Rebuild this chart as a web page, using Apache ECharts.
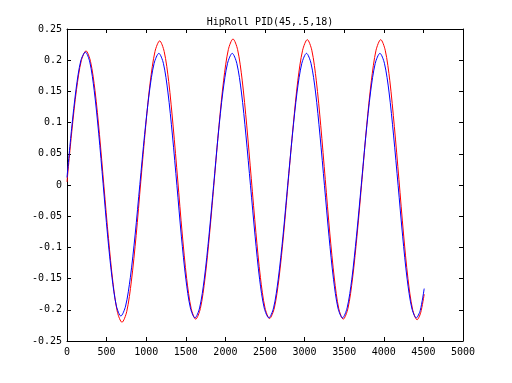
<!DOCTYPE html>
<html>
<head>
<meta charset="utf-8">
<script src="https://cdn.jsdelivr.net/npm/echarts@6/dist/echarts.min.js"></script>
<style>html,body{margin:0;padding:0;background:#fff;}#c{width:512px;height:383px;}</style>
</head>
<body>
<div id="c"></div>
<script>
var titleText = 'HipRoll PID(45,.5,18)';
var xTicks = [0, 500, 1000, 1500, 2000, 2500, 3000, 3500, 4000, 4500, 5000];
var yTicks = [-0.25, -0.2, -0.15, -0.1, -0.05, 0, 0.05, 0.1, 0.15, 0.2, 0.25];

var redX = [0, 60, 120, 180, 240,
  297, 354, 410, 467, 524, 580, 637, 694,
  754, 813, 873, 932, 992, 1051, 1111, 1170,
  1227, 1284, 1341, 1398, 1454, 1511, 1568, 1625,
  1684, 1743, 1802, 1861, 1919, 1978, 2037, 2096,
  2154, 2212, 2269, 2327, 2385, 2442, 2500, 2558,
  2618, 2677, 2737, 2796, 2856, 2915, 2975, 3034,
  3091, 3148, 3204, 3261, 3318, 3375, 3431, 3488,
  3547, 3606, 3665, 3725, 3784, 3843, 3902, 3961,
  4018, 4076, 4133, 4191, 4248, 4305, 4363, 4420,
  4465, 4510];
var redY = [0.005, 0.085, 0.153, 0.199, 0.215,
  0.198, 0.151, 0.081, -0.003, -0.086, -0.156, -0.204, -0.220,
  -0.203, -0.154, -0.081, 0.006, 0.092, 0.165, 0.214, 0.231,
  0.214, 0.166, 0.093, 0.008, -0.077, -0.150, -0.198, -0.215,
  -0.198, -0.149, -0.076, 0.010, 0.095, 0.168, 0.217, 0.234,
  0.217, 0.168, 0.096, 0.010, -0.076, -0.148, -0.197, -0.214,
  -0.197, -0.149, -0.076, 0.010, 0.095, 0.168, 0.216, 0.233,
  0.216, 0.167, 0.095, 0.009, -0.077, -0.149, -0.198, -0.215,
  -0.198, -0.149, -0.077, 0.009, 0.095, 0.167, 0.216, 0.233,
  0.216, 0.167, 0.094, 0.009, -0.077, -0.150, -0.199, -0.216,
  -0.205, -0.175];

var blueX = [0, 58, 116, 174, 232,
  288, 344, 400, 456, 512, 568, 624, 680,
  740, 800, 860, 920, 980, 1040, 1100, 1160,
  1217, 1274, 1331, 1388, 1444, 1501, 1558, 1615,
  1674, 1733, 1792, 1851, 1909, 1968, 2027, 2086,
  2144, 2202, 2259, 2317, 2375, 2432, 2490, 2548,
  2608, 2667, 2727, 2786, 2846, 2905, 2965, 3024,
  3081, 3138, 3194, 3251, 3308, 3365, 3421, 3478,
  3537, 3596, 3655, 3715, 3774, 3833, 3892, 3951,
  4008, 4066, 4123, 4181, 4238, 4295, 4353, 4410,
  4460, 4510];
var blueY = [0.012, 0.090, 0.155, 0.199, 0.213,
  0.197, 0.151, 0.083, 0.002, -0.080, -0.148, -0.194, -0.210,
  -0.194, -0.148, -0.080, 0.001, 0.081, 0.149, 0.195, 0.211,
  0.195, 0.149, 0.080, -0.001, -0.082, -0.151, -0.197, -0.213,
  -0.197, -0.151, -0.082, -0.001, 0.080, 0.149, 0.195, 0.211,
  0.195, 0.149, 0.080, -0.001, -0.082, -0.151, -0.197, -0.213,
  -0.197, -0.151, -0.082, -0.001, 0.080, 0.149, 0.195, 0.211,
  0.195, 0.149, 0.080, -0.001, -0.082, -0.151, -0.197, -0.213,
  -0.197, -0.151, -0.082, -0.001, 0.080, 0.149, 0.195, 0.211,
  0.195, 0.149, 0.080, -0.001, -0.082, -0.151, -0.197, -0.213,
  -0.201, -0.166];

function pairs(xs, ys) { return xs.map(function (x, i) { return [x, ys[i]]; }); }

var font = 'DejaVu Sans Mono';
var chart = echarts.init(document.getElementById('c'), null, {renderer: 'canvas'});
var axisBase = {
  type: 'value',
  axisLine: {show: true, onZero: false, lineStyle: {color: '#000', width: 1}},
  axisTick: {show: true, inside: true, length: 4, lineStyle: {color: '#000'}},
  splitLine: {show: false}
};
chart.setOption({
  animation: false,
  backgroundColor: '#fff',
  title: {text: titleText, left: 265, textAlign: 'center', top: 12,
    textStyle: {fontFamily: font, fontSize: 10, fontWeight: 'normal', color: '#000'}},
  grid: {left: 67, right: 49, top: 29, bottom: 42},
  xAxis: [
    Object.assign({}, axisBase, {min: xTicks[0], max: xTicks[xTicks.length - 1], interval: 500, position: 'bottom',
      axisLabel: {show: true, margin: 6, color: '#000', fontFamily: font, fontSize: 10, formatter: function (v) { return String(v); }}}),
    Object.assign({}, axisBase, {min: xTicks[0], max: xTicks[xTicks.length - 1], interval: 500, position: 'top',
      axisLabel: {show: false}})
  ],
  yAxis: [
    Object.assign({}, axisBase, {min: yTicks[0], max: yTicks[yTicks.length - 1], interval: 0.05, position: 'left',
      axisLabel: {show: true, margin: 5, color: '#000', fontFamily: font, fontSize: 10,
        formatter: function (v) { return String(Math.round(v * 100) / 100); }}}),
    Object.assign({}, axisBase, {min: yTicks[0], max: yTicks[yTicks.length - 1], interval: 0.05, position: 'right',
      axisLabel: {show: false}})
  ],
  series: [
    {type: 'line', xAxisIndex: 0, yAxisIndex: 0, data: pairs(redX, redY), showSymbol: false, smooth: 0.3,
      lineStyle: {color: '#ff0000', width: 1}, itemStyle: {color: '#ff0000'}},
    {type: 'line', xAxisIndex: 0, yAxisIndex: 0, data: pairs(blueX, blueY), showSymbol: false, smooth: 0.3,
      lineStyle: {color: '#0000ff', width: 1}, itemStyle: {color: '#0000ff'}}
  ]
});
</script>
</body>
</html>
